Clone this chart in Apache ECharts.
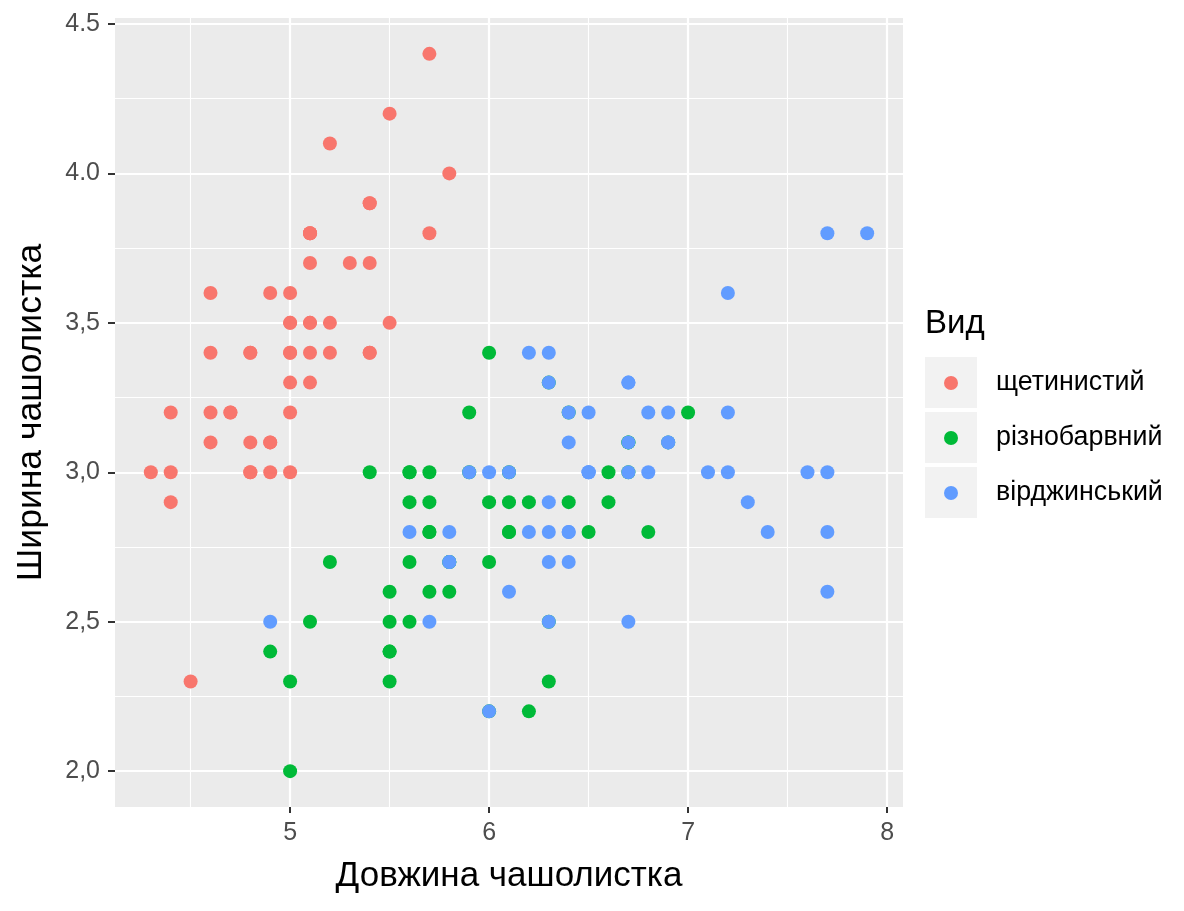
<!DOCTYPE html>
<html>
<head>
<meta charset="utf-8">
<script src="https://cdn.jsdelivr.net/npm/echarts@6/dist/echarts.min.js"></script>
<style>
html,body{margin:0;padding:0;background:#fff;}
#chart{width:1184px;height:911px;}
</style>
</head>
<body>
<div id="chart"></div>
<script>
// ---- data (iris: sepal length / sepal width) ----
const speciesNames = ['щетинистий', 'різнобарвний', 'вірджинський'];
const speciesColors = ['#F8766D', '#00BA38', '#619CFF'];

const setosaLength = [5.1,4.9,4.7,4.6,5.0,5.4,4.6,5.0,4.4,4.9,5.4,4.8,4.8,4.3,5.8,5.7,5.4,5.1,5.7,5.1,5.4,5.1,4.6,5.1,4.8,5.0,5.0,5.2,5.2,4.7,4.8,5.4,5.2,5.5,4.9,5.0,5.5,4.9,4.4,5.1,5.0,4.5,4.4,5.0,5.1,4.8,5.1,4.6,5.3,5.0];
const setosaWidth  = [3.5,3.0,3.2,3.1,3.6,3.9,3.4,3.4,2.9,3.1,3.7,3.4,3.0,3.0,4.0,4.4,3.9,3.5,3.8,3.8,3.4,3.7,3.6,3.3,3.4,3.0,3.4,3.5,3.4,3.2,3.1,3.4,4.1,4.2,3.1,3.2,3.5,3.6,3.0,3.4,3.5,2.3,3.2,3.5,3.8,3.0,3.8,3.2,3.7,3.3];

const versicolorLength = [7.0,6.4,6.9,5.5,6.5,5.7,6.3,4.9,6.6,5.2,5.0,5.9,6.0,6.1,5.6,6.7,5.6,5.8,6.2,5.6,5.9,6.1,6.3,6.1,6.4,6.6,6.8,6.7,6.0,5.7,5.5,5.5,5.8,6.0,5.4,6.0,6.7,6.3,5.6,5.5,5.5,6.1,5.8,5.0,5.6,5.7,5.7,6.2,5.1,5.7];
const versicolorWidth  = [3.2,3.2,3.1,2.3,2.8,2.8,3.3,2.4,2.9,2.7,2.0,3.0,2.2,2.9,2.9,3.1,3.0,2.7,2.2,2.5,3.2,2.8,2.5,2.8,2.9,3.0,2.8,3.0,2.9,2.6,2.4,2.4,2.7,2.7,3.0,3.4,3.1,2.3,3.0,2.5,2.6,3.0,2.6,2.3,2.7,3.0,2.9,2.9,2.5,2.8];

const virginicaLength = [6.3,5.8,7.1,6.3,6.5,7.6,4.9,7.3,6.7,7.2,6.5,6.4,6.8,5.7,5.8,6.4,6.5,7.7,7.7,6.0,6.9,5.6,7.7,6.3,6.7,7.2,6.2,6.1,6.4,7.2,7.4,7.9,6.4,6.3,6.1,7.7,6.3,6.4,6.0,6.9,6.7,6.9,5.8,6.8,6.7,6.7,6.3,6.5,6.2,5.9];
const virginicaWidth  = [3.3,2.7,3.0,2.9,3.0,3.0,2.5,2.9,2.5,3.6,3.2,2.7,3.0,2.5,2.8,3.2,3.0,3.8,2.6,2.2,3.2,2.8,2.8,2.7,3.3,3.2,2.8,3.0,2.8,3.0,2.8,3.8,2.8,2.8,2.6,3.0,3.4,3.1,3.0,3.1,3.1,3.1,2.7,3.2,3.3,3.0,2.5,3.0,3.4,3.0];

// ---- axes / ticks ----
const xTicks = [5, 6, 7, 8];
const xTickLabels = ['5', '6', '7', '8'];
const xMinorGrid = [4.5, 5.5, 6.5, 7.5];
const yTicks = [2.0, 2.5, 3.0, 3.5, 4.0, 4.5];
const yTickLabels = ['2,0', '2,5', '3,0', '3,5', '4.0', '4.5'];
const yMinorGrid = [2.25, 2.75, 3.25, 3.75, 4.25];
const xRange = [4.12, 8.08];
const yRange = [1.88, 4.52];

const xTitle = 'Довжина чашолистка';
const yTitle = 'Ширина чашолистка';
const legendTitle = 'Вид';

function pairs(xs, ys) { return xs.map((v, i) => [v, ys[i]]); }
const seriesData = [
  pairs(setosaLength, setosaWidth),
  pairs(versicolorLength, versicolorWidth),
  pairs(virginicaLength, virginicaWidth)
];

function labelFor(ticks, labels) {
  return function (v) {
    for (let i = 0; i < ticks.length; i++) {
      if (Math.abs(ticks[i] - v) < 1e-9) return labels[i];
    }
    return '';
  };
}

const gridLines = [];
xMinorGrid.forEach(v => gridLines.push({ xAxis: v, lineStyle: { width: 1.1 } }));
yMinorGrid.forEach(v => gridLines.push({ yAxis: v, lineStyle: { width: 1.1 } }));
xTicks.forEach(v => gridLines.push({ xAxis: v, lineStyle: { width: 2.2 } }));
yTicks.forEach(v => gridLines.push({ yAxis: v, lineStyle: { width: 2.2 } }));

const chart = echarts.init(document.getElementById('chart'), null, { renderer: 'canvas' });

const axisFont = 'Liberation Sans, Arial, sans-serif';

// legend drawn as graphic (ggplot style keys)
const legendGraphics = [
  { type: 'text', x: 925, y: 324, style: { text: legendTitle, font: '33px ' + axisFont, fill: '#000', verticalAlign: 'middle' } }
];
speciesNames.forEach((name, i) => {
  const top = 357 + i * 55;
  legendGraphics.push({ type: 'rect', x: 925, y: top, shape: { width: 52, height: 51 }, style: { fill: '#F2F2F2' } });
  legendGraphics.push({ type: 'circle', x: 951, y: top + 26, shape: { cx: 0, cy: 0, r: 7 }, style: { fill: speciesColors[i] } });
  legendGraphics.push({ type: 'text', x: 996, y: top + 26, style: { text: name, font: '26.8px ' + axisFont, fill: '#000', verticalAlign: 'middle' } });
});

const series = [{
  type: 'scatter',
  data: [],
  z: 1,
  silent: true,
  markLine: {
    silent: true,
    z: 1,
    symbol: ['none', 'none'],
    label: { show: false },
    animation: false,
    lineStyle: { color: '#FFFFFF', type: 'solid' },
    data: gridLines
  }
}];
speciesNames.forEach((name, i) => {
  series.push({
    type: 'scatter',
    name: name,
    data: seriesData[i],
    symbol: 'circle',
    symbolSize: 14,
    zlevel: 1,
    z: 3,
    itemStyle: { color: speciesColors[i], opacity: 1 }
  });
});

chart.setOption({
  animation: false,
  backgroundColor: '#FFFFFF',
  grid: {
    left: 115, top: 18, right: 281, bottom: 104,
    show: true, backgroundColor: '#EBEBEB', borderWidth: 0
  },
  xAxis: {
    type: 'value',
    min: xRange[0], max: xRange[1],
    name: xTitle,
    nameLocation: 'middle',
    nameGap: 52,
    nameTextStyle: { fontSize: 35, color: '#000', fontFamily: axisFont },
    axisLine: { show: false },
    splitLine: { show: false },
    axisTick: { show: true, length: 6, customValues: xTicks, lineStyle: { color: '#333333', width: 2 } },
    axisLabel: { customValues: xTicks, formatter: labelFor(xTicks, xTickLabels), fontSize: 25, color: '#4D4D4D', fontFamily: axisFont, margin: 14 }
  },
  yAxis: {
    type: 'value',
    min: yRange[0], max: yRange[1],
    name: yTitle,
    nameLocation: 'middle',
    nameGap: 66,
    nameTextStyle: { fontSize: 35.5, color: '#000', fontFamily: axisFont },
    axisLine: { show: false },
    splitLine: { show: false },
    axisTick: { show: true, length: 7, customValues: yTicks, lineStyle: { color: '#333333', width: 2 } },
    axisLabel: { customValues: yTicks, formatter: labelFor(yTicks, yTickLabels), fontSize: 25, color: '#4D4D4D', fontFamily: axisFont, margin: 15 }
  },
  graphic: legendGraphics,
  series: series
});
</script>
</body>
</html>
